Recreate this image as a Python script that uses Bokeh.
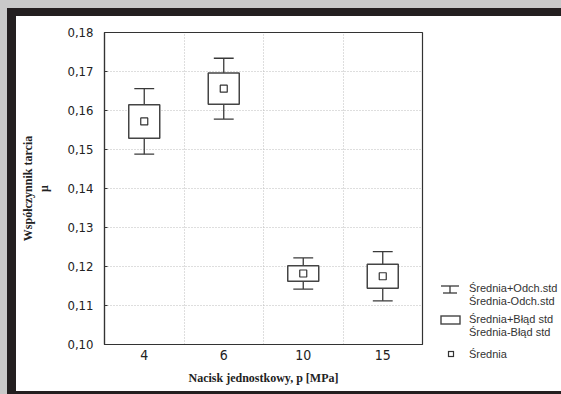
from bokeh.plotting import figure
from bokeh.models import (Range1d, FixedTicker, CustomJSTickFormatter,
                          ColumnDataSource, Div)
from bokeh.layouts import row
from bokeh.embed import file_html
from bokeh.resources import INLINE

# ---- data ----
categories = ["4", "6", "10", "15"]
means = [0.1572, 0.1656, 0.1182, 0.1175]
std_err = [0.0043, 0.0040, 0.0020, 0.0031]
std_dev = [0.0084, 0.0078, 0.0040, 0.0063]
y_ticks = [0.10, 0.11, 0.12, 0.13, 0.14, 0.15, 0.16, 0.17, 0.18]
legend_labels = ["Średnia+Odch.std", "Średnia-Odch.std",
                 "Średnia+Błąd std", "Średnia-Błąd std", "Średnia"]
x_title = "Nacisk jednostkowy, p [MPa]"
y_title = "Współczynnik tarcia\nμ"

xs = [i + 0.5 for i in range(len(categories))]
src = ColumnDataSource(dict(
    x=xs, mean=means,
    se_lo=[m - s for m, s in zip(means, std_err)],
    se_hi=[m + s for m, s in zip(means, std_err)],
    sd_lo=[m - s for m, s in zip(means, std_dev)],
    sd_hi=[m + s for m, s in zip(means, std_dev)],
    cap_l=[x - 0.125 for x in xs], cap_r=[x + 0.125 for x in xs],
))

gray = "#c9c9c9"
black = "#231f20"
dark = "#333333"
line_col = "#3a3a3a"
grid_col = "#bdbdbd"
title_font = "Liberation Serif"
tick_font = "DejaVu Sans Condensed"

PANEL_H = 375
MAIN_W = 416
LEG_W = 129

p = figure(width=MAIN_W, height=PANEL_H, output_backend="svg", toolbar_location=None,
           x_range=Range1d(0, len(categories)), y_range=Range1d(0.10, 0.18),
           min_border_left=88, min_border_right=10, min_border_top=16,
           min_border_bottom=47, background_fill_color="white",
           border_fill_color="white", outline_line_color=dark,
           outline_line_width=1.2, styles={"flex-shrink": "0"})

# axes
p.xaxis.ticker = FixedTicker(ticks=xs)
p.xaxis.major_label_overrides = {x: c for x, c in zip(xs, categories)}
p.yaxis.ticker = FixedTicker(ticks=y_ticks)
p.yaxis.formatter = CustomJSTickFormatter(code="return tick.toFixed(2).replace('.', ',');")
for ax in (p.xaxis[0], p.yaxis[0]):
    ax.major_tick_out = 0
    ax.major_tick_in = 0
    ax.minor_tick_out = 0
    ax.minor_tick_in = 0
    ax.axis_line_color = dark
    ax.axis_line_width = 1.2
    ax.major_label_text_font = tick_font
    ax.major_label_text_color = "#222222"
    ax.axis_label_text_font = title_font
    ax.axis_label_text_font_style = "bold"
    ax.axis_label_text_font_size = "12px"
    ax.axis_label_text_color = "#222222"
p.yaxis.major_label_text_font_size = "13px"
p.xaxis.major_label_text_font_size = "14px"
p.yaxis.major_tick_in = 3
p.yaxis.major_tick_line_color = dark
p.yaxis.major_label_standoff = 11
p.xaxis.major_label_standoff = 5
p.xaxis.axis_label = x_title
p.yaxis.axis_label = y_title
p.xaxis.axis_label_standoff = 8
p.yaxis.axis_label_standoff = 13

# grid
p.xgrid.ticker = FixedTicker(ticks=[1, 2, 3])
for g in (p.xgrid[0], p.ygrid[0]):
    g.grid_line_color = grid_col
    g.grid_line_dash = "1 2"
    g.grid_line_width = 1

# glyphs: whiskers (sd), boxes (se), means
p.segment(x0="x", y0="sd_lo", x1="x", y1="sd_hi", source=src, line_color=line_col, line_width=1.3)
p.segment(x0="cap_l", y0="sd_hi", x1="cap_r", y1="sd_hi", source=src, line_color=line_col, line_width=1.3)
p.segment(x0="cap_l", y0="sd_lo", x1="cap_r", y1="sd_lo", source=src, line_color=line_col, line_width=1.3)
p.vbar(x="x", width=0.39, bottom="se_lo", top="se_hi", source=src, fill_color="white",
       line_color="#444444", line_width=1.5)
p.scatter(x="x", y="mean", source=src, marker="square", size=7, fill_color="white",
          line_color="#333333", line_width=1.2)

# ---- legend panel (HTML/SVG box placed right of the plot) ----
sx, tx = 18, 37
r1, r2, r3 = 271, 304, 338
text_rows = [r1 + 1, r1 + 14, r2 - 1, r2 + 12, r3]
parts = [
    f'<svg xmlns="http://www.w3.org/2000/svg" width="{LEG_W}" height="{PANEL_H}" '
    f'style="position:absolute;left:0;top:0;display:block;overflow:visible">',
    f'<g stroke="{line_col}" stroke-width="1.3" fill="none">'
    f'<line x1="{sx-9}" y1="{r1-1}" x2="{sx+9}" y2="{r1-1}"/>'
    f'<line x1="{sx}" y1="{r1-1}" x2="{sx}" y2="{r1+6}"/>'
    f'<line x1="{sx-7}" y1="{r1+6}" x2="{sx+7}" y2="{r1+6}"/></g>',
    f'<rect x="{sx-9}" y="{r2-4}" width="19" height="8" fill="white" stroke="#444444" stroke-width="1.4"/>',
    f'<rect x="{sx-1.5}" y="{r3-2.5}" width="5" height="5" fill="white" stroke="#333333" stroke-width="1.2"/>',
]
for txt, yy in zip(legend_labels, text_rows):
    parts.append(f'<text x="{tx}" y="{yy}" dominant-baseline="central" '
                 f'font-family="Liberation Sans" font-size="11px" fill="#333333">{txt}</text>')
parts.append('</svg>')
legend_html = (f'<div style="position:relative;width:{LEG_W}px;height:{PANEL_H}px;'
               f'background:white">' + "".join(parts) + '</div>')
legend_div = Div(text=legend_html, width=LEG_W, height=PANEL_H, margin=0,
                 styles={"background-color": "white", "flex-shrink": "0"})

layout = row(p, legend_div, spacing=0)

# page frame: light-gray outer edge, dark border, white panel behind the chart
page_css = (
    "<style>"
    "html{background:"
    "linear-gradient(#ffffff,#ffffff) 16px 16px/545px 375px no-repeat,"
    f"linear-gradient({gray},{gray}) 0 0/100% 8px no-repeat,"
    f"linear-gradient({gray},{gray}) 0 0/7px 100% no-repeat,"
    f"{black};}}"
    "html,body{margin:0;overflow:hidden;height:394px;width:561px;}"
    "body{padding:16px 0 0 16px;box-sizing:border-box;background:transparent;}"
    "</style>"
)

html = file_html(layout, INLINE)
html = html.replace("</head>", page_css + "</head>", 1)
open("out.html", "w").write(html)
